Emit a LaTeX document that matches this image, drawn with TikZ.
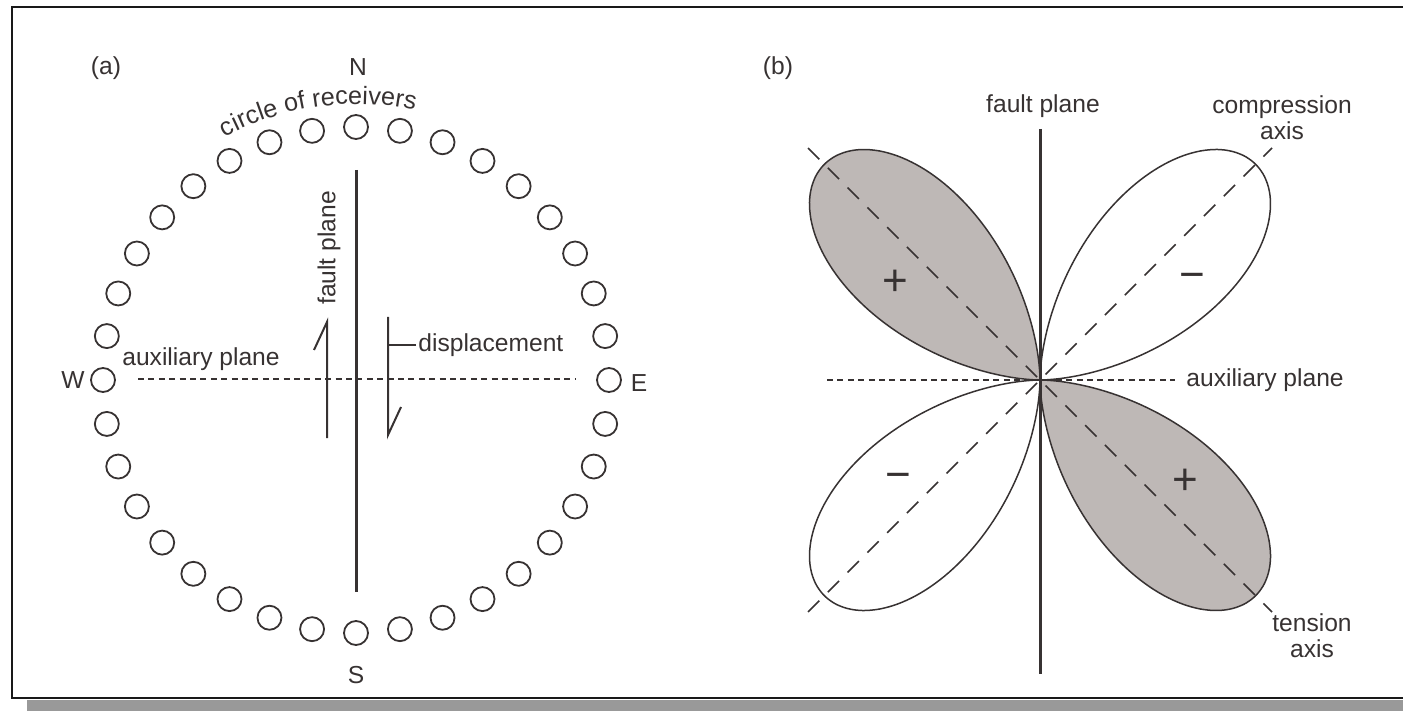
\documentclass[tikz,border=0pt]{standalone}
\usepackage{fontspec}
\setmainfont{Liberation Sans}
\usepackage{tikz}
\usetikzlibrary{decorations.text}

\definecolor{ink}{RGB}{55,50,50}
\definecolor{lobefill}{RGB}{190,184,182}
\definecolor{shadowgray}{RGB}{153,153,153}
\newcommand{\lblfont}{\fontsize{12.3}{14}\selectfont}

\begin{document}
\begin{tikzpicture}[x=0.5pt, y=0.5pt,
    every node/.style={font=\lblfont, text=ink, inner sep=1pt},
    rcv/.style={draw=ink, circle, line width=0.9pt, minimum size=12pt, inner sep=0pt},
    fault/.style={draw=ink, line width=1.5pt},
    auxline/.style={draw=ink, line width=0.75pt, dash pattern=on 3pt off 2.2pt},
    axisline/.style={draw=ink, line width=0.75pt, dash pattern=on 8pt off 6pt},
    slip/.style={draw=ink, line width=1pt},
    lobe/.style={draw=ink, line width=0.75pt},
    sign/.style={font=\fontsize{22}{24}\selectfont}]
  \useasboundingbox (0,0) rectangle (1403,-711);
  % frame with its shadow
  \fill[shadowgray] (27,-700) rectangle (1403,-711);
  \draw[line width=1pt, black!90] (1403,-7) -- (12,-7) -- (12,-698) -- (1403,-698);

  % (a) map view
  \coordinate (ca) at (356,-380);
  \node (lbla) at (106,-68) {(a)};
  \foreach \a in {0,10,...,350}
    \node[rcv] (r\a) at ([shift={(\a:253)}]ca) {};
  \node (N) at (358,-67) {N};
  \node (S) at (356,-675) {S};
  \node (W) at (73,-380) {W};
  \node (E) at (639,-383) {E};
  \path[decorate, decoration={text along path, text align=center,
        text={|\fontsize{12.6}{14}\selectfont\color{ink}|circle of receivers}}]
    ([shift={(124:276)}]ca) arc[start angle=124, end angle=72, radius=276];

  \coordinate (fa1) at (356,-170);
  \coordinate (fa2) at (356,-592);
  \draw[fault] (fa1) -- (fa2);
  \node[rotate=90] (fpa) at (329,-248) {fault plane};

  \coordinate (aa1) at (138,-379);
  \coordinate (aa2) at (575,-379);
  \draw[auxline] (aa1) -- (aa2);
  \node (apa) at (201,-359) {auxiliary plane};

  \coordinate (la1) at (327,-438);
  \coordinate (la2) at (327,-322);
  \coordinate (la3) at (314,-350);
  \draw[slip] (la1) -- (la2) -- (la3);
  \coordinate (ra1) at (388,-317);
  \coordinate (ra2) at (388,-435);
  \coordinate (ra3) at (401,-407);
  \draw[slip] (ra1) -- (ra2) -- (ra3);
  \node[anchor=west] (disp) at (416,-345) {displacement};
  \draw[ink, line width=0.75pt] (disp.west) -- (disp.west -| ra1);

  % (b) radiation pattern
  \coordinate (cb) at (1040,-380);
  \node (lblb) at (778,-68) {(b)};
  \begin{scope}[shift={(cb)}]
    \foreach \lo/\hi/\col in {90/180/lobefill, 270/360/lobefill, 0/90/white, 180/270/white}
      \filldraw[lobe, fill=\col] (0,0) -- plot[domain=\lo+0.3:\hi-0.3, samples=140]
        (\x:{305*pow(abs(sin(2*\x)),1.4)}) -- cycle;
  \end{scope}
  \coordinate (tl) at (808,-148);
  \coordinate (br) at (1272,-612);
  \coordinate (tr) at (1272,-148);
  \coordinate (bl) at (808,-612);
  \draw[axisline] (tl) -- (br);
  \draw[axisline] (bl) -- (tr);
  \coordinate (ab1) at (827,-380);
  \coordinate (ab2) at (1175,-380);
  \draw[auxline] (ab1) -- (ab2);
  \coordinate (fb1) at (1040,-129);
  \coordinate (fb2) at (1040,-674);
  \draw[fault] (fb1) -- (fb2);

  \node (fpb) at (1043,-106) {fault plane};
  \node[anchor=west] (apb) at (1184,-380) {auxiliary plane};
  \node[align=center] (comp) at (1282,-118) {compression\\[-1pt]axis};
  \node[align=center] (tens) at (1312,-636) {tension\\[-1pt]axis};

  \node[sign] (p1) at (895,-283) {+};
  \node[sign] (m1) at (1192,-281) {−};
  \node[sign] (m2) at (898,-481) {−};
  \node[sign] (p2) at (1185,-482) {+};
\end{tikzpicture}
\end{document}
